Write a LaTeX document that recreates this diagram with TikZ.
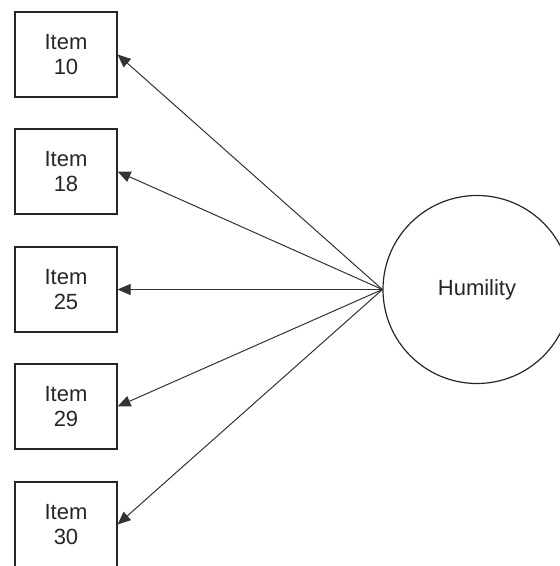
\documentclass[tikz,border=0pt]{standalone}
\usepackage{fontspec}
\setmainfont{Liberation Sans}
\usetikzlibrary{arrows.meta}
\begin{document}
\begin{tikzpicture}[x=1pt,y=-1pt,
  itembox/.style={draw=black!85, line width=1.2pt, minimum width=102pt, minimum height=85pt,
    inner sep=0pt, align=center, font=\fontsize{22}{25.5}\selectfont, text=black!85},
  latent/.style={draw=black!85, line width=1.2pt, circle, minimum size=188pt, inner sep=0pt,
    font=\fontsize{22}{25.5}\selectfont, text=black!85},
  path/.style={draw=black!80, line width=1pt, -{Triangle[length=13pt,width=11pt]}}]
  \useasboundingbox (0,0) rectangle (560,566);
  \begin{scope}
  \clip (0,0) rectangle (560,566);
  \node[itembox] (i10) at (66,54.5)  {Item\\10};
  \node[itembox] (i18) at (66,171.5) {Item\\18};
  \node[itembox] (i25) at (66,289.5) {Item\\25};
  \node[itembox] (i29) at (66,406.5) {Item\\29};
  \node[itembox] (i30) at (66,524.5) {Item\\30};
  \node[latent] (hum) at (477,289.5) {Humility};
  \foreach \t in {i10,i18,i25,i29,i30}
    \draw[path] (hum.west) -- (\t.east);
  \end{scope}
\end{tikzpicture}
\end{document}
